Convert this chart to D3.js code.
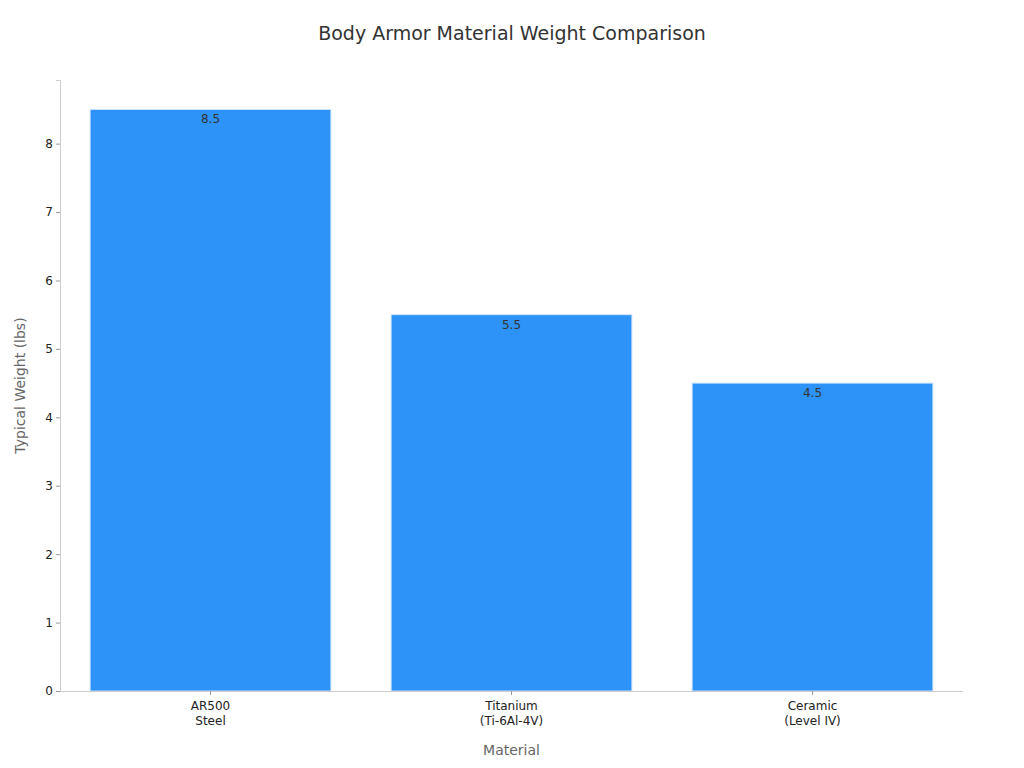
<!DOCTYPE html>
<html><head><meta charset="utf-8">
<script src="https://cdn.jsdelivr.net/npm/d3@7"></script>
<style>body{margin:0;background:#fff;font-family:"DejaVu Sans",sans-serif;}</style>
</head><body>
<script>
// chart data
var materials = [["AR500", "Steel"], ["Titanium", "(Ti-6Al-4V)"], ["Ceramic", "(Level IV)"]];
var weights = [8.5, 5.5, 4.5];
var yTicks = [0, 1, 2, 3, 4, 5, 6, 7, 8];

var w = 1024, h = 768;
var padL = 60, padR = 963, padT = 80, padB = 691;

var svg = d3.select("body").append("svg").attr("width", w).attr("height", h);

var xScale = d3.scaleBand().domain(d3.range(weights.length)).range([padL, padR]).paddingInner(0.2).paddingOuter(0.1);
var yScale = d3.scaleLinear().domain([0, 8.93]).range([padB, padT]);

// bars
svg.selectAll("rect.bar").data(weights).enter().append("rect")
    .attr("class", "bar")
    .attr("x", function(d, i) { return xScale(i); })
    .attr("y", function(d) { return yScale(d); })
    .attr("width", xScale.bandwidth())
    .attr("height", function(d) { return padB - yScale(d); })
    .attr("fill", "#2E93F8")
    .attr("stroke", "#cfe3fb").attr("stroke-width", 1);

// value labels
svg.selectAll("text.val").data(weights).enter().append("text")
    .attr("class", "val")
    .attr("x", function(d, i) { return xScale(i) + xScale.bandwidth() / 2; })
    .attr("y", function(d) { return yScale(d) + 14; })
    .attr("text-anchor", "middle").style("font-size", "12px").style("fill", "#333")
    .text(function(d) { return d.toFixed(1); });

// axes
var yAxis = d3.axisLeft(yScale).tickValues(yTicks).tickSize(4);
var gy = svg.append("g").attr("transform", "translate(" + padL + ",0)").call(yAxis);
gy.select(".domain").attr("stroke", "#ccc");
gy.selectAll(".tick line").attr("stroke", "#999");
gy.selectAll("text").style("font-size", "12px").style("fill", "#222").style("font-family", "DejaVu Sans");

var xAxis = d3.axisBottom(xScale).tickSize(4).tickFormat("");
var gx = svg.append("g").attr("transform", "translate(0," + padB + ")").call(xAxis);
gx.select(".domain").attr("d", "M" + padL + ",0.5H" + padR).attr("stroke", "#ccc");
gx.selectAll(".tick line").attr("stroke", "#999");
gx.selectAll(".tick").each(function(d) {
    var t = d3.select(this).append("text").attr("y", 19).attr("text-anchor", "middle")
        .style("font-size", "12px").style("fill", "#222").attr("font-family", "DejaVu Sans");
    materials[d].forEach(function(line, k) {
        t.append("tspan").attr("x", 0).attr("dy", k === 0 ? 0 : 15).text(line);
    });
});

// titles
svg.append("text").attr("x", w / 2).attr("y", 40).attr("text-anchor", "middle")
    .style("font-size", "19px").style("fill", "#333").text("Body Armor Material Weight Comparison");
svg.append("text").attr("x", (padL + padR) / 2).attr("y", 755).attr("text-anchor", "middle")
    .style("font-size", "14px").style("fill", "#666").text("Material");
svg.append("text").attr("transform", "rotate(-90)").attr("x", -(padT + padB) / 2).attr("y", 25)
    .attr("text-anchor", "middle").style("font-size", "14px").style("fill", "#666").text("Typical Weight (lbs)");
</script>
</body></html>
